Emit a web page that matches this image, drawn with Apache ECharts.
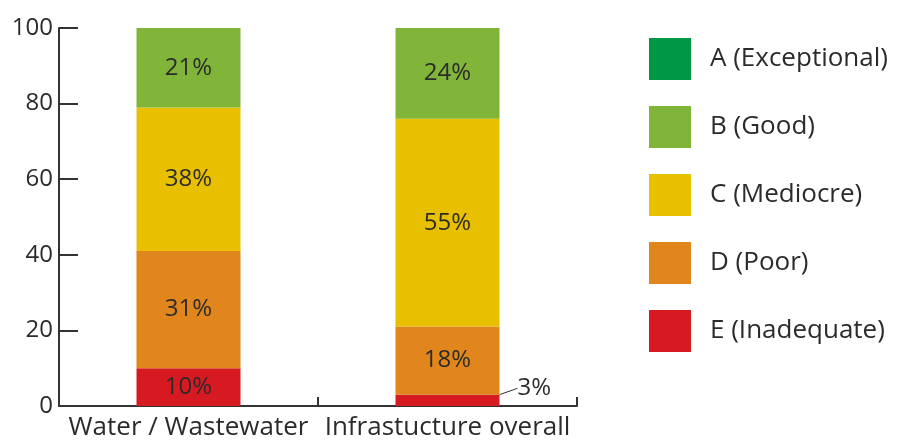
<!DOCTYPE html>
<html><head><meta charset="utf-8">
<script src="https://cdn.jsdelivr.net/npm/echarts@6/dist/echarts.min.js"></script>
<style>html,body{margin:0;padding:0;background:#fff}#c{width:898px;height:446px}</style>
</head><body><div id="c"></div>
<script>
const categories = ['Water / Wastewater', 'Infrastucture overall'];
const gradeNames = ['A (Exceptional)', 'B (Good)', 'C (Mediocre)', 'D (Poor)', 'E (Inadequate)'];
const gradeA = [0, 0];
const gradeB = [21, 24];
const gradeC = [38, 55];
const gradeD = [31, 18];
const gradeE = [10, 3];
const yTicks = [0, 20, 40, 60, 80, 100];

const colors = ['#009846', '#80b53a', '#e8c000', '#e0861d', '#d71a21'];
const FONT = '"Open Sans"';
const lbl = {show: true, position: 'inside', color: '#2b2b2b', fontSize: 24, fontFamily: FONT, formatter: p => p.value + '%'};

function mk(i, data, extra) {
  return Object.assign({
    name: gradeNames[i], type: 'bar', stack: 's', barWidth: 104,
    itemStyle: {color: colors[i]}, label: lbl, data: data
  }, extra || {});
}

const eData = gradeE.map((v, i) => i === 1 ? {value: v, label: {position: 'right', distance: 4}} : v);

const chart = echarts.init(document.getElementById('c'));
chart.setOption({
  animation: false,
  grid: {left: 59, right: 321, top: 28, bottom: 40},
  legend: {
    orient: 'vertical', left: 649, top: 38, padding: 0, itemWidth: 42, itemHeight: 42, itemGap: 26,
    icon: 'rect', data: gradeNames,
    textStyle: {fontSize: 26, fontFamily: FONT, color: '#2b2b2b', padding: [0, 0, 0, 14]}
  },
  xAxis: {
    type: 'category', data: categories,
    axisLine: {lineStyle: {color: '#333', width: 2}},
    axisTick: {show: true, inside: true, length: 9, lineStyle: {color: '#333', width: 2}},
    axisLabel: {fontSize: 26, fontFamily: FONT, color: '#2b2b2b', margin: 9, interval: 0}
  },
  yAxis: {
    type: 'value', min: yTicks[0], max: yTicks[yTicks.length - 1], interval: 20,
    splitLine: {show: false},
    axisLine: {show: true, lineStyle: {color: '#333', width: 2}},
    axisTick: {show: true, inside: true, length: 19, lineStyle: {color: '#333', width: 2}},
    axisLabel: {fontSize: 24, fontFamily: FONT, color: '#2b2b2b', margin: 6, verticalAlign: 'middle', padding: [0, 0, 10, 0]}
  },
  series: [
    mk(4, eData, {
      labelLine: {show: true, lineStyle: {color: '#333', width: 1}},
      labelLayout: function (p) { return p.dataIndex === 1 ? {dx: 14, dy: -12} : {}; }
    }),
    mk(3, gradeD),
    mk(2, gradeC),
    mk(1, gradeB),
    mk(0, gradeA, {label: {show: false}})
  ]
});
</script></body></html>
